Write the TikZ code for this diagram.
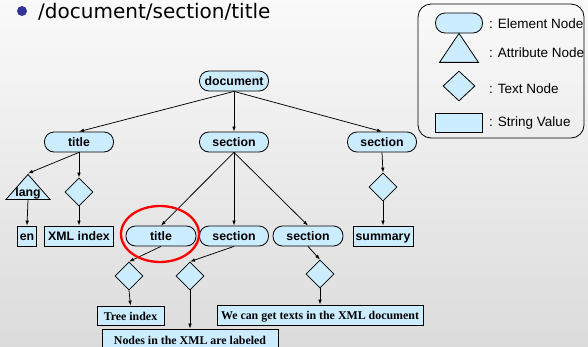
\documentclass[tikz,border=0pt]{standalone}
\usepackage{fontspec}
\setmainfont{Liberation Sans}
\newfontfamily\valuefont{Liberation Serif}
\newfontfamily\headfont{DejaVu Sans}
\usetikzlibrary{shapes.geometric, arrows.meta}

\definecolor{nodeblue}{RGB}{204,236,255}
\definecolor{dotblue}{RGB}{51,51,153}

\begin{document}
\begin{tikzpicture}[x=1pt, y=-1pt,
    elem/.style={draw, line width=0.8pt, fill=nodeblue, rounded corners=9.5pt, minimum width=69pt,
        minimum height=20pt, inner sep=0pt, text height=9.8pt, text depth=0pt,
        font=\fontsize{12.3}{13}\selectfont\bfseries},
    attr/.style={draw, line width=0.8pt, fill=nodeblue, isosceles triangle, isosceles triangle stretches,
        shape border rotate=90, inner sep=0pt},
    txt/.style={draw, line width=0.8pt, fill=nodeblue, diamond, minimum width=28pt, minimum height=28pt, inner sep=0pt},
    strval/.style={draw, line width=0.8pt, fill=nodeblue, minimum height=20pt, inner sep=0pt,
        text height=9.8pt, text depth=0pt, font=\fontsize{12.3}{13}\selectfont\bfseries},
    strserif/.style={strval, font=\valuefont\fontsize{11.9}{12}\selectfont\bfseries},
    legtext/.style={anchor=west, inner sep=0pt, font=\fontsize{13.5}{14}\selectfont},
    edge/.style={-{Latex[length=5pt, width=3.6pt]}, line width=0.75pt}]

    % Background
    \shade[top color=white!98!black, bottom color=white!86!black] (0,0) rectangle (588,346);
    \useasboundingbox (0,0) rectangle (588,346);

    % Heading
    \fill[dotblue] (22,11) circle (5);
    \node[anchor=base west, inner sep=0pt, font=\headfont\fontsize{20}{22}\selectfont] (head) at (38,18) {/document/section/title};

    % Legend
    \node[draw, line width=0.8pt, rounded corners=13pt, minimum width=166pt, minimum height=134pt, inner sep=0pt] (legend) at (501,71) {};
    \node[elem, minimum width=47pt] (legelem) at (459,23) {};
    \node[attr, minimum width=39pt, minimum height=29pt] (legattr) at (459,52) {};
    \node[txt, minimum width=32pt, minimum height=30pt] (legtxt) at (459,86) {};
    \node[strval, minimum width=47pt, minimum height=19pt] (legval) at (459,123) {};
    \node[legtext] (legelemlab) at (489,24) {: Element Node};
    \node[legtext] (legattrlab) at (489,53) {: Attribute Node};
    \node[legtext] (legtxtlab) at (489,89) {: Text Node};
    \node[legtext] (legvallab) at (489,123) {: String Value};

    % Element nodes
    \node[elem] (doc) at (234,81) {document};
    \node[elem] (title) at (79,142) {title};
    \node[elem] (sec) at (234,142) {section};
    \node[elem] (secr) at (382,142) {section};
    \node[elem, minimum width=70pt] (subtitle) at (161,236) {title};
    \node[elem] (subsec) at (234,236) {section};
    \node[elem, minimum width=70pt] (subsecr) at (308,236) {section};

    % Attribute and text nodes
    \node[attr, minimum width=44pt, minimum height=25pt] (lang) at (28,189.5) {};
    \node[font=\fontsize{12.3}{13}\selectfont\bfseries, inner sep=0pt] (langlab) at (28,193) {lang};
    \node[txt] (tt) at (79,192) {};
    \node[txt] (tsr) at (383,187) {};
    \node[txt] (tst) at (129,276) {};
    \node[txt] (tss) at (190,276) {};
    \node[txt] (tssr) at (320,274) {};

    % String values
    \node[strval, minimum width=19pt] (en) at (27,236) {en};
    \node[strval, minimum width=69pt] (xml) at (79,236) {XML index};
    \node[strval, minimum width=60pt] (summ) at (383,236) {summary};
    \node[strserif, minimum width=67pt, minimum height=19pt] (tree) at (130.5,315.5) {Tree index};
    \node[strserif, minimum width=206pt, minimum height=20pt] (get) at (320,315) {We can get texts in the XML document};
    \node[strserif, minimum width=176pt, minimum height=22pt] (lab) at (190,340) {Nodes in the XML are labeled};

    % Edges
    \foreach \a/\b in {doc/title, doc/sec, doc/secr, title/tt, secr/tsr,
                       sec/subtitle, sec/subsec, sec/subsecr,
                       subtitle/tst, subsec/tss, subsecr/tssr}
        \draw[edge] (\a.south) -- (\b.north);
    \draw[edge] (title.south) -- (lang.apex);
    \foreach \a/\b in {lang/en, tt/xml, tsr/summ, tst/tree, tss/lab, tssr/get}
        \draw[edge] (\a.south) -- (\b.north);

    % Highlight
    \draw[red, line width=2.3pt] (subtitle.center) ++(-1,-2) ellipse [x radius=39, y radius=28];
\end{tikzpicture}
\end{document}
